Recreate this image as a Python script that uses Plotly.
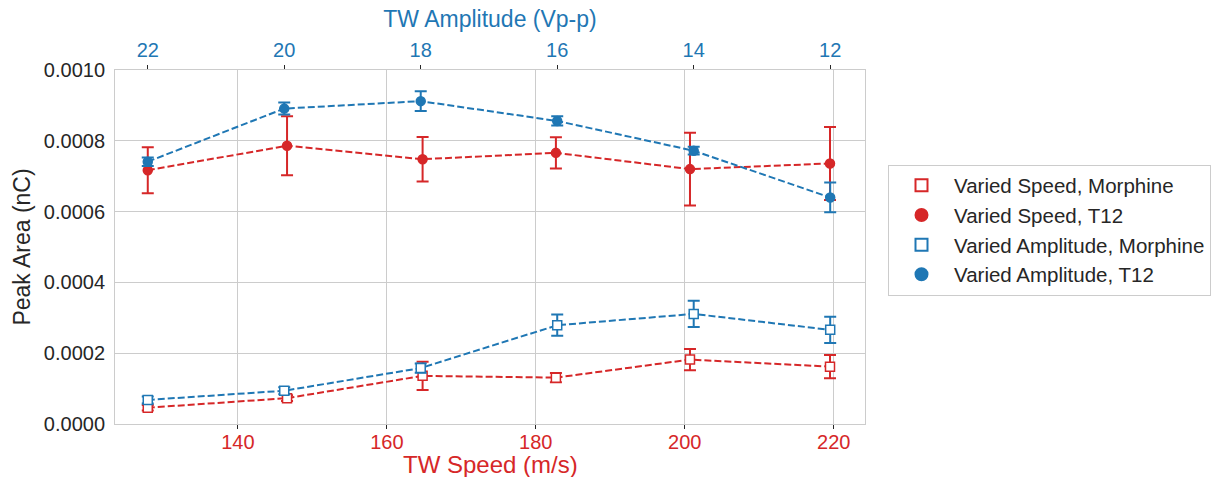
import plotly.graph_objects as go

RED = "#d62728"
BLUE = "#1f77b4"

speed = [127.9, 146.6, 164.8, 182.7, 200.7, 219.5]
amplitude = [22, 20, 18, 16, 14, 12]

speed_t12 = [0.000717, 0.000786, 0.000748, 0.000766, 0.000720, 0.000736]
speed_t12_err = [0.000065, 0.000083, 0.000063, 0.000044, 0.000103, 0.000103]
speed_morph = [0.000046, 0.000073, 0.000136, 0.000131, 0.000182, 0.000162]
speed_morph_err = [0.000008, 0.000008, 0.000040, 0.000013, 0.000030, 0.000033]

amp_t12 = [0.000741, 0.000891, 0.000912, 0.000856, 0.000772, 0.000640]
amp_t12_err = [0.000012, 0.000017, 0.000028, 0.000013, 0.000011, 0.000042]
amp_morph = [0.000068, 0.000094, 0.000158, 0.000279, 0.000311, 0.000266]
amp_morph_err = [0.000010, 0.000010, 0.000013, 0.000030, 0.000037, 0.000037]

y_ticks = [0, 0.0002, 0.0004, 0.0006, 0.0008, 0.0010]
speed_ticks = [140, 160, 180, 200, 220]

FONT = "Liberation Sans, Arial, sans-serif"
TXT = "#262626"

fig = go.Figure()

def add_series(x, y, err, color, symbol, filled, name, axis):
    fig.add_trace(go.Scatter(
        x=x, y=y, mode="lines+markers", xaxis=axis, yaxis="y",
        line=dict(color=color, width=2, dash="7px,3px"),
        marker=dict(symbol=symbol, size=9,
                    color=color if filled else "white",
                    line=dict(color=color, width=1.5)),
        error_y=dict(type="data", array=err, visible=True, color=color,
                     thickness=2, width=6),
        showlegend=False, name=name))

add_series(speed, speed_morph, speed_morph_err, RED, "square", False, "Varied Speed, Morphine", "x")
add_series(speed, speed_t12, speed_t12_err, RED, "circle", True, "Varied Speed, T12", "x")
add_series(amplitude, amp_morph, amp_morph_err, BLUE, "square", False, "Varied Amplitude, Morphine", "x2")
add_series(amplitude, amp_t12, amp_t12_err, BLUE, "circle", True, "Varied Amplitude, T12", "x2")

legend_items = [
    ("Varied Speed, Morphine", RED, "square", False),
    ("Varied Speed, T12", RED, "circle", True),
    ("Varied Amplitude, Morphine", BLUE, "square", False),
    ("Varied Amplitude, T12", BLUE, "circle", True),
]
for name, color, symbol, filled in legend_items:
    fig.add_trace(go.Scatter(
        x=[None], y=[None], mode="markers", name=name,
        marker=dict(symbol=symbol, size=15 if filled else 13,
                    color=color if filled else "white",
                    line=dict(color=color, width=1.5))))

fig.add_annotation(
    text="TW Speed (m/s)", xref="paper", yref="paper", x=0.5, y=-0.1158,
    xanchor="center", yanchor="middle", showarrow=False,
    font=dict(family=FONT, size=24, color=RED))

fig.update_layout(
    width=1211, height=477,
    margin=dict(l=115, r=346, t=70, b=53),
    paper_bgcolor="white", plot_bgcolor="white",
    font=dict(family=FONT, size=20, color=TXT),
    xaxis=dict(
        range=[123.5, 224.2], tickvals=speed_ticks,
        tickfont=dict(color=RED, size=20),
        automargin=False, ticklabelstandoff=-4,
        showgrid=True, gridcolor="#cccccc", gridwidth=1,
        showline=True, linecolor="#cccccc", linewidth=1, mirror=False,
        ticks="outside", ticklen=4, tickcolor=TXT, tickwidth=1,
        zeroline=False,
    ),
    xaxis2=dict(
        overlaying="x", side="top", anchor="y",
        range=[22.48, 11.49], tickvals=amplitude,
        tickfont=dict(color=BLUE, size=20),
        title=dict(text="TW Amplitude (Vp-p)", font=dict(color=BLUE, size=23), standoff=4),
        automargin=False,
        showgrid=False, showline=True, linecolor="#cccccc", linewidth=1,
        ticks="outside", ticklen=4, tickcolor=TXT, tickwidth=1,
        zeroline=False,
    ),
    yaxis=dict(
        range=[0, 0.001], tickvals=y_ticks, tickformat=".4f",
        tickfont=dict(size=20, color=TXT),
        title=dict(text="Peak Area (nC)", font=dict(size=23, color=TXT), standoff=6),
        automargin=False,
        showgrid=True, gridcolor="#cccccc", gridwidth=1,
        showline=True, linecolor="#cccccc", linewidth=1, mirror=True,
        zeroline=False, ticks="outside", ticklen=5, tickcolor="rgba(0,0,0,0)",
    ),
    legend=dict(
        xref="container", x=888 / 1211, y=0.548, xanchor="left", yanchor="middle",
        bordercolor="#cccccc", borderwidth=1, bgcolor="white",
        font=dict(size=20.5, color=TXT),
        itemsizing="constant", tracegroupgap=0, itemwidth=55,
    ),
)

fig.write_html("out.html")
